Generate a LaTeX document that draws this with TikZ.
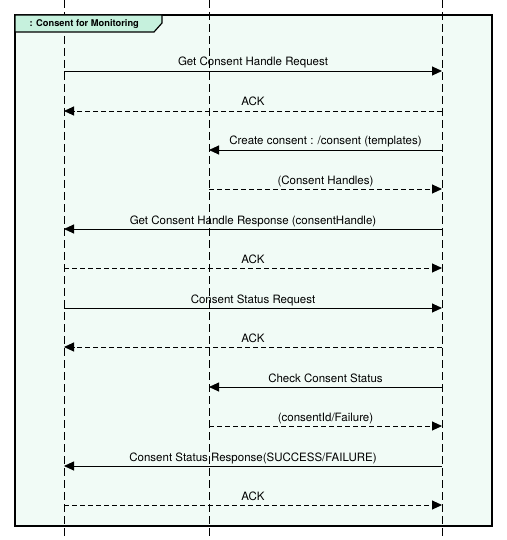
\documentclass[tikz,border=0pt]{standalone}
\usepackage{fontspec}
\setmainfont{TeX Gyre Heros}
\usetikzlibrary{arrows.meta}

\definecolor{framefill}{RGB}{241,251,246}
\definecolor{tabfill}{RGB}{198,241,221}

\tikzset{
	lifeline/.style = {line width=0.9pt, dash pattern=on 8pt off 4pt},
	msg/.style = {line width=0.9pt, -{Triangle[length=10pt, width=9pt]}},
	reply/.style = {msg, dash pattern=on 5pt off 3pt},
	lbl/.style = {midway, anchor=base, yshift=5pt, inner sep=0pt, font=\fontsize{11.5}{13}\selectfont},
}

\begin{document}
\begin{tikzpicture}[x=1pt, y=-1pt, line cap = butt]
%		\draw (0,0) grid (506,540);
		\useasboundingbox (0,0) rectangle (506,540);
		
		% lifelines
		\coordinate (Ltop) at (64,0);
		\coordinate (Lbot) at (64,540);
		\coordinate (Mtop) at (209,0);
		\coordinate (Mbot) at (209,540);
		\coordinate (Rtop) at (442,0);
		\coordinate (Rbot) at (442,540);
		
		% message ends
		\coordinate (L1) at (64,71);
		\coordinate (R1) at (442,71);
		\coordinate (L2) at (64,111);
		\coordinate (R2) at (442,111);
		\coordinate (M3) at (209,150);
		\coordinate (R3) at (442,150);
		\coordinate (M4) at (209,189);
		\coordinate (R4) at (442,189);
		\coordinate (L5) at (64,229);
		\coordinate (R5) at (442,229);
		\coordinate (L6) at (64,268);
		\coordinate (R6) at (442,268);
		\coordinate (L7) at (64,308);
		\coordinate (R7) at (442,308);
		\coordinate (L8) at (64,347);
		\coordinate (R8) at (442,347);
		\coordinate (M9) at (209,387);
		\coordinate (R9) at (442,387);
		\coordinate (M10) at (209,426);
		\coordinate (R10) at (442,426);
		\coordinate (L11) at (64,466);
		\coordinate (R11) at (442,466);
		\coordinate (L12) at (64,505);
		\coordinate (R12) at (442,505);
		
		\draw[line width=1.6pt, fill=framefill] (15,15) rectangle (492,526);
		
		\draw[lifeline] (Ltop) -- (Lbot);
		\draw[lifeline] (Mtop) -- (Mbot);
		\draw[lifeline] (Rtop) -- (Rbot);
		
		\draw[line width=1.2pt, fill=tabfill, line join=miter] (15,15) -- (162,15) -- (162,23) -- (154,32) -- (15,32) -- cycle;
		\node[anchor=base west, inner sep=0pt, font=\fontsize{9.3}{11}\selectfont\bfseries] (title) at (29.5,27) {: Consent for Monitoring};
		
		\draw[msg] (L1) -- (R1) node[lbl] (t1) {Get Consent Handle Request};
		\draw[reply] (R2) -- (L2) node[lbl] (t2) {ACK};
		\draw[msg] (R3) -- (M3) node[lbl] (t3) {Create consent : /consent (templates)};
		\draw[reply] (M4) -- (R4) node[lbl] (t4) {(Consent Handles)};
		\draw[msg] (R5) -- (L5) node[lbl] (t5) {Get Consent Handle Response (consentHandle)};
		\draw[reply] (L6) -- (R6) node[lbl] (t6) {ACK};
		\draw[msg] (L7) -- (R7) node[lbl] (t7) {Consent Status Request};
		\draw[reply] (R8) -- (L8) node[lbl] (t8) {ACK};
		\draw[msg] (R9) -- (M9) node[lbl] (t9) {Check Consent Status};
		\draw[reply] (M10) -- (R10) node[lbl] (t10) {(consentId/Failure)};
		\draw[msg] (R11) -- (L11) node[lbl] (t11) {Consent Status Response(SUCCESS/FAILURE)};
		\draw[reply] (L12) -- (R12) node[lbl] (t12) {ACK};
	\end{tikzpicture}
\end{document}
